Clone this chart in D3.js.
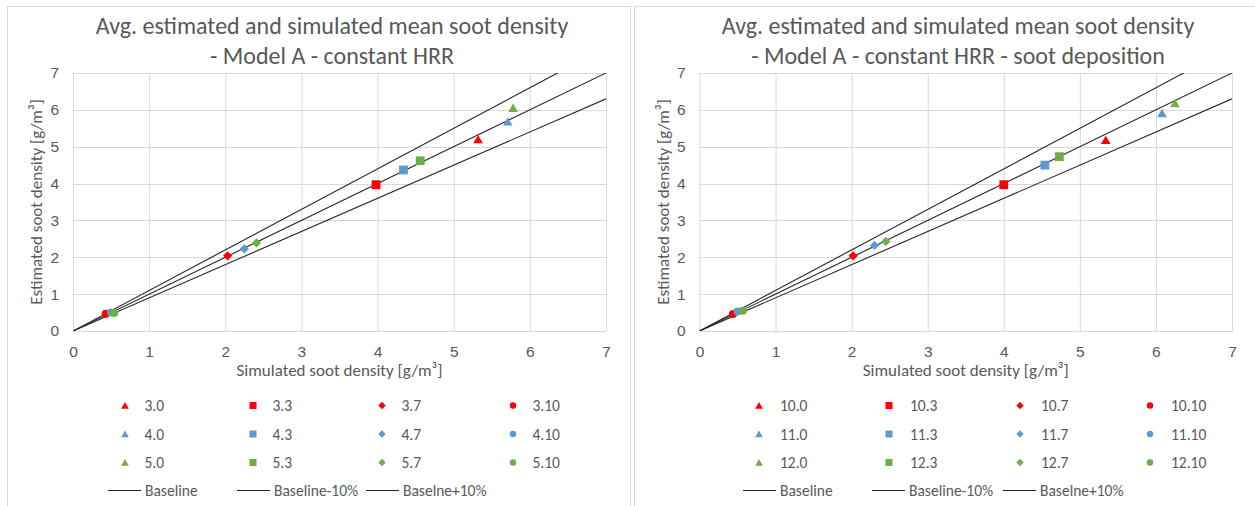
<!DOCTYPE html>
<html><head><meta charset="utf-8">
<script src="https://cdn.jsdelivr.net/npm/d3@7"></script>
<style>
html,body{margin:0;padding:0;background:#fff;}
svg{display:block;font-family:Carlito,Calibri,Lato,"Open Sans",sans-serif;}
</style></head>
<body>
<svg id="chart" width="1255" height="506"></svg>
<script>
// ---------- data ----------
const leftTitle = ["Avg. estimated and simulated mean soot density", "- Model A - constant HRR"];
const rightTitle = ["Avg. estimated and simulated mean soot density", "- Model A - constant HRR - soot deposition"];
const xAxisTitle = "Simulated soot density [g/m³]";
const yAxisTitle = "Estimated soot density [g/m³]";
const axisTicks = [0, 1, 2, 3, 4, 5, 6, 7];

const leftSeries = ["3.0", "3.3", "3.7", "3.10", "4.0", "4.3", "4.7", "4.10", "5.0", "5.3", "5.7", "5.10"];
const leftSimulated = [5.32, 3.98, 2.03, 0.43, 5.71, 4.34, 2.25, 0.50, 5.78, 4.56, 2.41, 0.54];
const leftEstimated = [5.20, 3.97, 2.04, 0.47, 5.68, 4.37, 2.23, 0.50, 6.05, 4.62, 2.39, 0.49];

const rightSeries = ["10.0", "10.3", "10.7", "10.10", "11.0", "11.3", "11.7", "11.10", "12.0", "12.3", "12.7", "12.10"];
const rightSimulated = [5.34, 4.00, 2.02, 0.44, 6.08, 4.54, 2.30, 0.50, 6.25, 4.73, 2.45, 0.57];
const rightEstimated = [5.18, 3.97, 2.04, 0.46, 5.91, 4.50, 2.32, 0.53, 6.18, 4.73, 2.43, 0.55];

const seriesShapes = ["triangle", "square", "diamond", "circle"];
const seriesColors = ["#FF0000", "#5B9BD5", "#70AD47"];

const refNames = ["Baseline", "Baseline-10%", "Baselne+10%"];
const refFactors = [1.0, 0.9, 1.1];
const refRange = [0, 7];

// ---------- shapes ----------
function shapePath(shape, s) {
  const h = s / 2;
  if (shape === "triangle") return `M0,${-h}L${h*1.1},${h*0.9}L${-h*1.1},${h*0.9}Z`;
  if (shape === "square") return `M${-h},${-h}H${h}V${h}H${-h}Z`;
  if (shape === "diamond") return `M0,${-h*1.05}L${h*1.05},0L0,${h*1.05}L${-h*1.05},0Z`;
  const r = h * 0.92;
  return `M${r},0A${r},${r},0,1,1,${-r},0A${r},${r},0,1,1,${r},0Z`;
}

const svg = d3.select("#chart");
const textCol = "#595959";
const gridCol = "#D9D9D9";
const fsTitle = 24, fsAxis = 17, fsTick = 15.5, fsLeg = 15.5;

function drawPanel(cfg) {
  const g = svg.append("g");
  g.append("rect").attr("x", cfg.px).attr("y", 6.5).attr("width", cfg.pw).attr("height", 520)
    .attr("fill", "#fff").attr("stroke", gridCol).attr("stroke-width", 1);

  const x = d3.scaleLinear().domain([0, 7]).range([cfg.x0, cfg.x1]);
  const y = d3.scaleLinear().domain([0, 7]).range([331, 73]);

  // title
  cfg.title.forEach((t, i) => {
    g.append("text").attr("x", cfg.titleX).attr("y", 34 + i * 30)
      .attr("text-anchor", "middle").attr("font-size", fsTitle).attr("fill", textCol).text(t);
  });

  // grid
  g.append("g").selectAll("line.v").data(axisTicks).join("line")
    .attr("x1", d => x(d) + 0.5).attr("x2", d => x(d) + 0.5)
    .attr("y1", y(7)).attr("y2", y(0)).attr("stroke", gridCol);
  g.append("g").selectAll("line.h").data(axisTicks).join("line")
    .attr("x1", x(0)).attr("x2", x(7))
    .attr("y1", d => Math.round(y(d)) + 0.5).attr("y2", d => Math.round(y(d)) + 0.5).attr("stroke", gridCol);

  // axes via d3 axis
  const xa = g.append("g").attr("transform", `translate(0,${y(0)})`)
    .call(d3.axisBottom(x).tickValues(axisTicks).tickSize(0).tickPadding(15).tickFormat(d3.format("d")));
  xa.select(".domain").remove();
  xa.selectAll("text").attr("fill", textCol).attr("font-size", fsTick).attr("font-family", null);
  const ya = g.append("g").attr("transform", `translate(${x(0)},0)`)
    .call(d3.axisLeft(y).tickValues(axisTicks).tickSize(0).tickPadding(14).tickFormat(d3.format("d")));
  ya.select(".domain").remove();
  ya.selectAll("text").attr("fill", textCol).attr("font-size", fsTick).attr("font-family", null);

  // axis titles
  g.append("text").attr("x", (x(0) + x(7)) / 2).attr("y", 376).attr("text-anchor", "middle")
    .attr("font-size", fsAxis).attr("fill", textCol).text(xAxisTitle);
  g.append("text").attr("transform", `translate(${cfg.yTitleX},${(y(0) + y(7)) / 2}) rotate(-90)`)
    .attr("text-anchor", "middle").attr("font-size", fsAxis).attr("fill", textCol).text(yAxisTitle);

  // reference lines (clipped to plot)
  const clipId = "clip" + cfg.id;
  svg.append("clipPath").attr("id", clipId).append("rect")
    .attr("x", x(0)).attr("y", y(7)).attr("width", x(7) - x(0)).attr("height", y(0) - y(7));
  const line = d3.line().x(d => x(d[0])).y(d => y(d[1]));
  g.append("g").attr("clip-path", `url(#${clipId})`).selectAll("path").data(refFactors).join("path")
    .attr("d", f => line(refRange.map(v => [v, v * f])))
    .attr("fill", "none").attr("stroke", "#262626").attr("stroke-width", 1.1);

  // points
  const pts = cfg.names.map((n, i) => ({ n, i, sx: cfg.sim[i], ey: cfg.est[i],
    shape: seriesShapes[i % 4], color: seriesColors[Math.floor(i / 4)] }));
  g.append("g").selectAll("path").data(pts).join("path")
    .attr("transform", d => `translate(${x(d.sx)},${y(d.ey)})`)
    .attr("d", d => shapePath(d.shape, 8.8))
    .attr("fill", d => d.color);

  // legend
  const lg = g.append("g");
  const rowY = [405.5, 434, 462.5];
  pts.forEach(d => {
    const c = d.i % 4, r = Math.floor(d.i / 4);
    const mx = cfg.legMarkX[c];
    lg.append("path").attr("transform", `translate(${mx},${rowY[r]})`)
      .attr("d", shapePath(d.shape, 7)).attr("fill", d.color);
    lg.append("text").attr("x", mx + cfg.legTextOff).attr("y", rowY[r] + 5.5)
      .attr("font-size", fsLeg).attr("fill", textCol).text(d.n);
  });
  refNames.forEach((n, i) => {
    const lx = cfg.legLineX[i];
    lg.append("line").attr("x1", lx).attr("x2", lx + 33).attr("y1", 490.5).attr("y2", 490.5)
      .attr("stroke", "#262626").attr("stroke-width", 1.1);
    lg.append("text").attr("x", lx + 37).attr("y", 496).attr("font-size", fsLeg)
      .attr("fill", textCol).text(n);
  });
}

drawPanel({ id: "L", px: 7.5, pw: 623, x0: 73, x1: 606, titleX: 332, yTitleX: 42,
  title: leftTitle, names: leftSeries, sim: leftSimulated, est: leftEstimated,
  legMarkX: [125, 253, 382, 513], legTextOff: 19.5, legLineX: [108, 237, 366] });
drawPanel({ id: "R", px: 634.5, pw: 640, x0: 699.5, x1: 1232, titleX: 958, yTitleX: 669,
  title: rightTitle, names: rightSeries, sim: rightSimulated, est: rightEstimated,
  legMarkX: [759, 889, 1020, 1150], legTextOff: 21, legLineX: [743, 872, 1003] });
</script>
</body></html>
